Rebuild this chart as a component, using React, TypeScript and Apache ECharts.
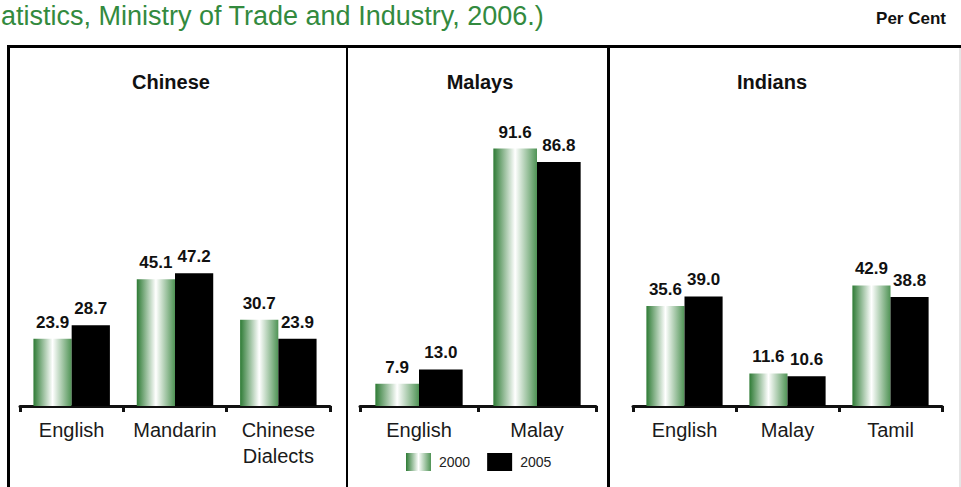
import React, { useEffect, useRef } from "react";
import * as echarts from "echarts";

const chineseCats = ["English", "Mandarin", "Chinese\nDialects"];
const malaysCats = ["English", "Malay"];
const indiansCats = ["English", "Malay", "Tamil"];

const chinese2000 = [23.9, 45.1, 30.7];
const chinese2005 = [28.7, 47.2, 23.9];
const malays2000 = [7.9, 91.6];
const malays2005 = [13.0, 86.8];
const indians2000 = [35.6, 11.6, 42.9];
const indians2005 = [39.0, 10.6, 38.8];

const panelTitles = ["Chinese", "Malays", "Indians"];
const legendNames = ["2000", "2005"];
const sourceText = "atistics, Ministry of Trade and Industry, 2006.)";
const unitText = "Per Cent";

const FONT = "Arial, Liberation Sans, sans-serif";

export default function App() {
  const ref = useRef<HTMLDivElement>(null);
  useEffect(() => {
    if (!ref.current) return;
    const chart = echarts.init(ref.current, undefined, { renderer: "svg" });
    const green = new echarts.graphic.LinearGradient(0, 0, 1, 0, [
      { offset: 0, color: "#2e7b35" },
      { offset: 0.5, color: "#ffffff" },
      { offset: 1, color: "#4f9355" },
    ]);
    const grids = [
      { left: 20, top: 125, width: 310, height: 281 },
      { left: 360, top: 125, width: 236, height: 281 },
      { left: 633, top: 125, width: 309, height: 281 },
    ];
    const cats = [chineseCats, malaysCats, indiansCats];
    const d2000 = [chinese2000, malays2000, indians2000];
    const d2005 = [chinese2005, malays2005, indians2005];
    const label = {
      show: true,
      position: "top",
      distance: 8,
      fontFamily: FONT,
      fontWeight: "bold",
      fontSize: 17,
      color: "#111",
      formatter: (p: any) => Number(p.value).toFixed(1),
    };
    const series: any[] = [];
    for (let i = 0; i < 3; i++) {
      series.push({
        type: "bar",
        name: legendNames[0],
        xAxisIndex: i,
        yAxisIndex: i,
        data: d2000[i],
        barGap: "0%",
        barCategoryGap: "26%",
        itemStyle: { color: green },
        label,
      });
      series.push({
        type: "bar",
        name: legendNames[1],
        xAxisIndex: i,
        yAxisIndex: i,
        data: d2005[i],
        barGap: "0%",
        barCategoryGap: "26%",
        itemStyle: { color: "#000000" },
        label,
      });
    }
    const titleX = [171, 480, 772];
    chart.setOption({
      animation: false,
      grid: grids,
      xAxis: cats.map((c, i) => ({
        type: "category",
        gridIndex: i,
        data: c,
        axisLine: { show: true, lineStyle: { color: "#111", width: 3 } },
        axisTick: { show: true, length: 6, interval: 0, lineStyle: { color: "#111", width: 3 } },
        axisLabel: {
          interval: 0,
          margin: 11,
          fontFamily: FONT,
          fontSize: 20,
          lineHeight: 26,
          color: "#1a1a1a",
        },
      })),
      yAxis: cats.map((_, i) => ({
        type: "value",
        gridIndex: i,
        min: 0,
        max: 100,
        show: false,
        splitLine: { show: false },
      })),
      legend: {
        data: legendNames,
        left: 406,
        top: 453,
        padding: 0,
        itemWidth: 25,
        itemHeight: 18,
        itemGap: 17,
        icon: "rect",
        textStyle: { fontFamily: FONT, fontSize: 14, color: "#222", padding: [0, 0, 0, 3] },
      },
      series,
      graphic: [
        {
          type: "text",
          x: 1,
          y: 16,
          style: {
            text: sourceText,
            fontFamily: FONT,
            fontSize: 27,
            fill: "#338a3e",
            align: "left",
            verticalAlign: "middle",
          },
        },
        {
          type: "text",
          x: 946,
          y: 18,
          style: {
            text: unitText,
            fontFamily: FONT,
            fontSize: 17,
            fontWeight: "bold",
            fill: "#111",
            align: "right",
            verticalAlign: "middle",
          },
        },
        ...panelTitles.map((t, i) => ({
          type: "text",
          x: titleX[i],
          y: 82,
          style: {
            text: t,
            fontFamily: FONT,
            fontSize: 20,
            fontWeight: "bold",
            fill: "#111",
            align: "center",
            verticalAlign: "middle",
          },
        })),
        { type: "line", shape: { x1: 7, y1: 46.5, x2: 961, y2: 46.5 }, style: { stroke: "#000", lineWidth: 3 } },
        { type: "line", shape: { x1: 8.5, y1: 45, x2: 8.5, y2: 487 }, style: { stroke: "#000", lineWidth: 3 } },
        { type: "line", shape: { x1: 347, y1: 46, x2: 347, y2: 487 }, style: { stroke: "#000", lineWidth: 2 } },
        { type: "line", shape: { x1: 608.5, y1: 46, x2: 608.5, y2: 487 }, style: { stroke: "#000", lineWidth: 3 } },
        { type: "line", shape: { x1: 960, y1: 48, x2: 960, y2: 487 }, style: { stroke: "#cccccc", lineWidth: 1 } },
      ],
    });
    return () => chart.dispose();
  }, []);
  return (
    <div
      ref={ref}
      style={{ position: "fixed", left: 0, top: 0, width: 961, height: 487, background: "#fff" }}
    />
  );
}
